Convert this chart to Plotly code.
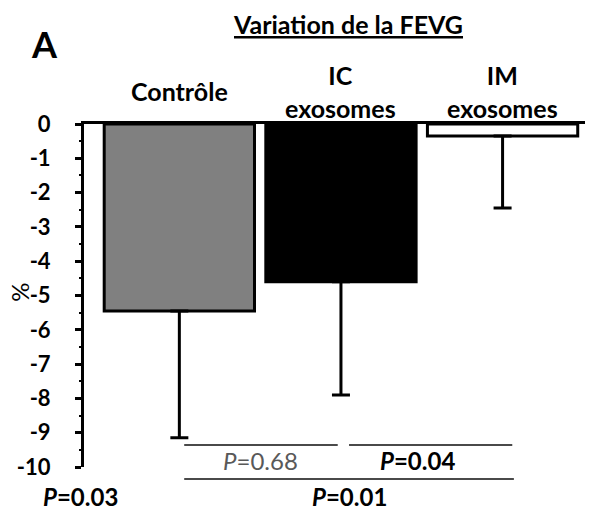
import plotly.graph_objects as go

# Variation de la FEVG par groupe (%)
groups = ["Contrôle", "IC<br>exosomes", "IM<br>exosomes"]
means = [-5.45, -4.6, -0.35]
sd = [3.7, 3.3, 2.1]
fills = ["#808080", "#000000", "#ffffff"]

# Comparaisons par paires : (groupe a, groupe b, texte, gras)
pairs = [
    (0, 1, "<i>P</i>=0.68", False),
    (1, 2, "<b><i>P</i>=0.04</b>", True),
    (0, 2, "<b><i>P</i>=0.01</b>", True),
]
global_p = "<b><i>P</i>=0.03</b>"

y_ticks = [0, -1, -2, -3, -4, -5, -6, -7, -8, -9, -10]

FONT = "Lato"
FS = 25
x_pos = list(range(len(groups)))

fig = go.Figure()
fig.add_trace(go.Bar(
    x=x_pos, y=means,
    marker=dict(color=fills, line=dict(color="black", width=3)),
    width=0.93,
    error_y=dict(type="data", symmetric=False, array=[0] * len(sd),
                 arrayminus=sd, color="black", thickness=3, width=9),
    showlegend=False,
))

# plot area in pixels: x 84..585, y 124..467
def py(p):
    return (467 - p) / 343.0


def note(text, x, y, xref="paper", size=FS, color="black", **kw):
    return dict(text=text, x=x, y=y, xref=xref, yref="paper", showarrow=False,
                xanchor="center", yanchor="middle",
                font=dict(size=size, family=FONT, color=color), **kw)


annotations = [
    note("<b>A</b>", -0.078, py(44), size=36),
    note("<b><u>Variation de la FEVG</u></b>", 0.527, py(24)),
    note("%", -0.13, py(292), textangle=-90, size=24),
    note(global_p, -0.006, py(496), size=24),
]
for i, g in enumerate(groups):
    annotations.append(note("<b>" + g + "</b>", i, py(91), xref="x"))

shapes = []
for a, b, label, bold in pairs:
    if b - a == 1:
        x0 = a + 0.03 if a == 0 else a + 0.05
        x1 = b - 0.02 if a == 0 else b + 0.06
        yl, yt = 445, 460
        xt = (x0 + x1) / 2 - (0.08 if bold else 0)
    else:
        x0, x1 = a + 0.03, b + 0.07
        yl, yt = 479, 496
        xt = (x0 + x1) / 2
    shapes.append(dict(type="line", xref="x", yref="paper", x0=x0, x1=x1,
                       y0=py(yl), y1=py(yl), line=dict(color="#4a4a4a", width=2)))
    annotations.append(note(label, xt, py(yt), xref="x", size=24,
                            color="black" if bold else "#595959"))

fig.update_layout(
    width=595, height=511,
    margin=dict(l=84, r=10, t=124, b=44),
    paper_bgcolor="white", plot_bgcolor="white",
    bargap=0.07,
    annotations=annotations,
    shapes=shapes,
    xaxis=dict(range=[-0.59, 2.51], side="top", showline=True, linecolor="black",
               linewidth=3, showticklabels=False, ticks="", showgrid=False,
               zeroline=False, fixedrange=True),
    yaxis=dict(range=[-10, 0], tickvals=y_ticks, ticktext=[str(v) for v in y_ticks],
               showline=True, linecolor="black", linewidth=3, ticks="outside",
               ticklen=6, tickwidth=3, tickcolor="black", ticklabelstandoff=20,
               minor=dict(dtick=0.5, ticks="outside", ticklen=2, tickwidth=2,
                          tickcolor="black"),
               tickfont=dict(size=22, family=FONT, color="black", weight="bold"),
               showgrid=False, zeroline=False),
)

fig.write_html("out.html")
